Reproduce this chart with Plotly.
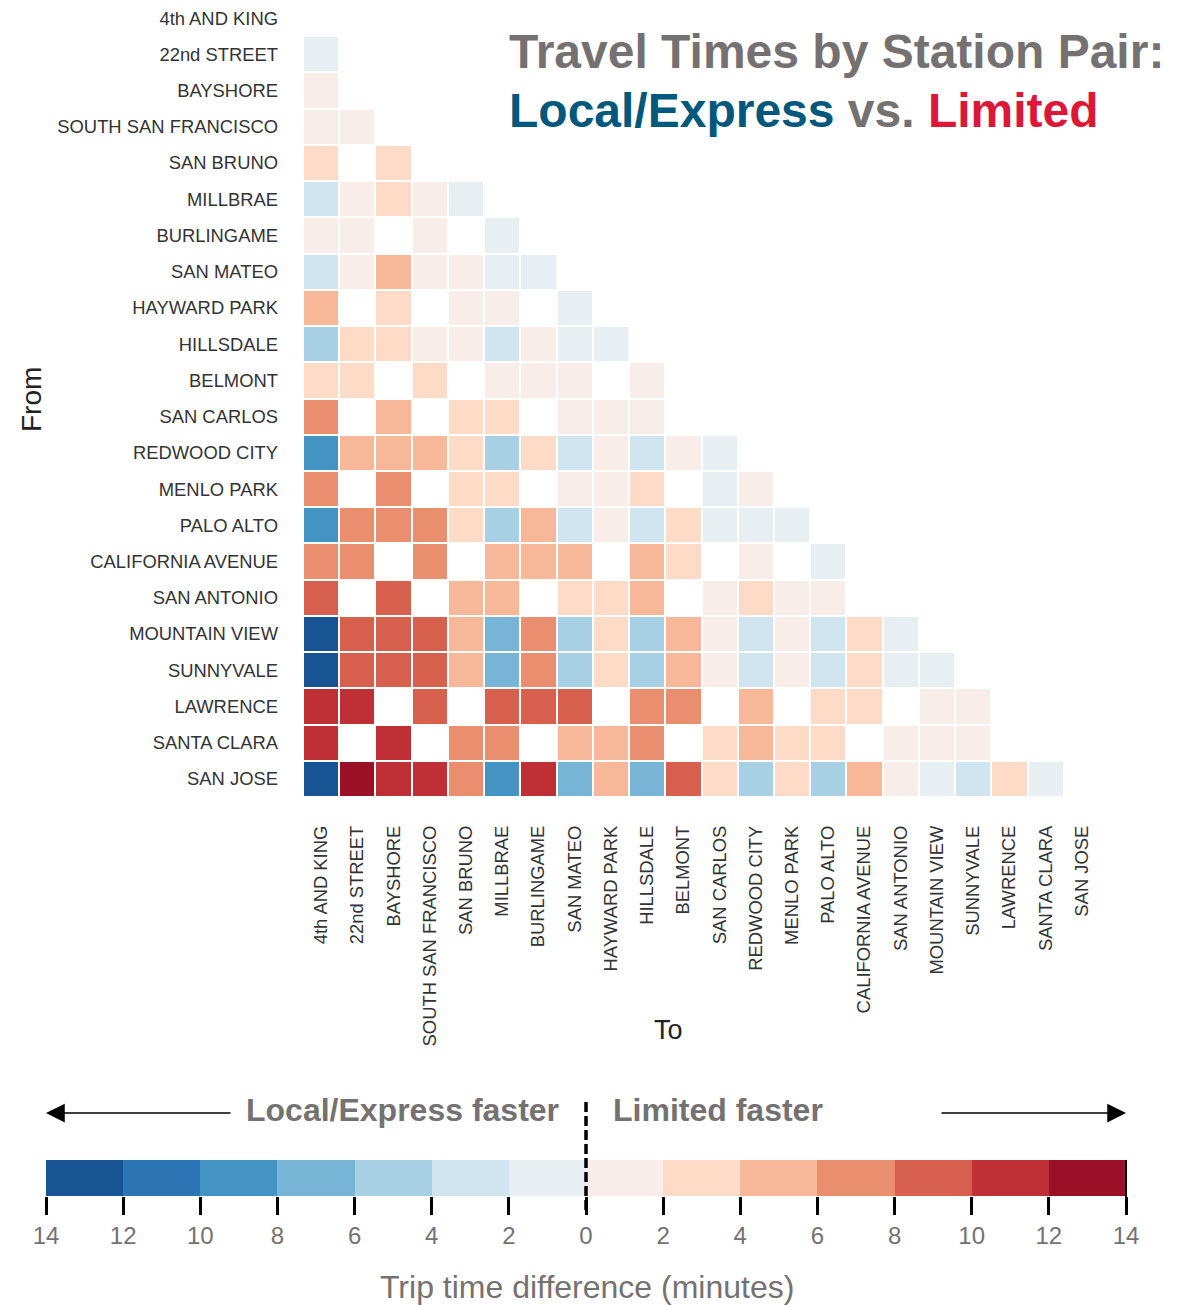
import plotly.graph_objects as go

# Caltrain stations, north to south
stations = [
    "4th AND KING", "22nd STREET", "BAYSHORE", "SOUTH SAN FRANCISCO", "SAN BRUNO",
    "MILLBRAE", "BURLINGAME", "SAN MATEO", "HAYWARD PARK", "HILLSDALE", "BELMONT",
    "SAN CARLOS", "REDWOOD CITY", "MENLO PARK", "PALO ALTO", "CALIFORNIA AVENUE",
    "SAN ANTONIO", "MOUNTAIN VIEW", "SUNNYVALE", "LAWRENCE", "SANTA CLARA", "SAN JOSE",
]

N = None
# Trip time difference in minutes (Local/Express minus Limited), by origin row.
# Negative: Local/Express faster; positive: Limited faster; None: no common service.
diff_rows = [
    [],
    [-1],
    [1],
    [1, 1],
    [3, N, 3],
    [-3, 1, 3, 1, -1],
    [1, 1, N, 1, N, -1],
    [-3, 1, 5, 1, 1, -1, -1],
    [5, N, 3, N, 1, 1, N, -1],
    [-5, 3, 3, 1, 1, -3, 1, -1, -1],
    [3, 3, N, 3, N, 1, 1, 1, N, 1],
    [7, N, 5, N, 3, 3, N, 1, 1, 1, N],
    [-9, 5, 5, 5, 3, -5, 3, -3, 1, -3, 1, -1],
    [7, N, 7, N, 3, 3, N, 1, 1, 3, N, -1, 1],
    [-9, 7, 7, 7, 3, -5, 5, -3, 1, -3, 3, -1, -1, -1],
    [7, 7, N, 7, N, 5, 5, 5, N, 5, 3, N, 1, N, -1],
    [9, N, 9, N, 5, 5, N, 3, 3, 5, N, 1, 3, 1, 1, N],
    [-13, 9, 9, 9, 5, -7, 7, -5, 3, -5, 5, 1, -3, 1, -3, 3, -1],
    [-13, 9, 9, 9, 5, -7, 7, -5, 3, -5, 5, 1, -3, 1, -3, 3, -1, -1],
    [11, 11, N, 9, N, 9, 9, 9, N, 7, 7, N, 5, N, 3, 3, N, 1, 1],
    [11, N, 11, N, 7, 7, N, 5, 5, 7, N, 3, 5, 3, 3, N, 1, 1, 1, N],
    [-13, 13, 11, 11, 7, -9, 11, -7, 5, -7, 9, 3, -5, 3, -5, 5, 1, -1, -3, 3, -1],
]

# Legend bins (2-minute steps) and colours
bin_edges = [-14, -12, -10, -8, -6, -4, -2, 0, 2, 4, 6, 8, 10, 12, 14]
bin_colors = [
    "#185493", "#2c75b4", "#4393c3", "#78b4d5", "#a7d0e4", "#d1e5f0", "#e8eff3",
    "#f8ede8", "#fddbc7", "#f7b799", "#ea8e70", "#d6604d", "#be3036", "#991027",
]
legend_ticks = ["14", "12", "10", "8", "6", "4", "2", "0", "2", "4", "6", "8", "10", "12", "14"]

W, H = 1181, 1305
GRAY = "#767171"
FONT = "Liberation Sans, Arial, sans-serif"


def px(x):
    return x / W


def py(y):
    return 1 - y / H


# Full square matrix, padded with gaps above the diagonal
n = len(stations)
z = [row + [None] * (n - len(row)) for row in diff_rows]

# Stepped colour scale
lo, hi = bin_edges[0], bin_edges[-1]
colorscale = []
for i, c in enumerate(bin_colors):
    a = (bin_edges[i] - lo) / (hi - lo)
    b = (bin_edges[i + 1] - lo) / (hi - lo)
    colorscale.append([a, c])
    colorscale.append([b, c])

fig = go.Figure()

fig.add_trace(go.Heatmap(
    z=z, x=stations, y=stations,
    zmin=lo, zmax=hi, colorscale=colorscale, showscale=False,
    xgap=2, ygap=2, hoverongaps=False,
    xaxis="x", yaxis="y",
))

# Legend strip
centers = [(bin_edges[i] + bin_edges[i + 1]) / 2 for i in range(len(bin_colors))]
fig.add_trace(go.Heatmap(
    z=[centers], x=centers, y=[0],
    zmin=lo, zmax=hi, colorscale=colorscale, showscale=False,
    xaxis="x2", yaxis="y2", hoverinfo="skip",
))

label_font = dict(family=FONT, size=18.4, color="#333333")

fig.update_layout(
    width=W, height=H,
    margin=dict(l=0, r=0, t=0, b=0, autoexpand=False),
    paper_bgcolor="white", plot_bgcolor="white",
    font=dict(family=FONT),
    showlegend=False,
    xaxis=dict(
        domain=[px(303), px(1100)], anchor="y", automargin=False,
        tickangle=-90, tickfont=label_font, ticks="", ticklabelstandoff=24,
        showgrid=False, zeroline=False, showline=False,
    ),
    yaxis=dict(
        domain=[py(797), py(0)], anchor="x", autorange="reversed", automargin=False,
        tickfont=label_font, ticks="", ticklabelstandoff=24,
        showgrid=False, zeroline=False, showline=False,
    ),
    xaxis2=dict(
        domain=[px(46), px(1126)], anchor="y2", range=[lo, hi], automargin=False,
        tickvals=bin_edges, ticktext=legend_ticks,
        ticks="outside", ticklen=18, tickwidth=2.5, tickcolor="black",
        tickfont=dict(family=FONT, size=24, color=GRAY),
        showgrid=False, zeroline=False, showline=False,
    ),
    yaxis2=dict(
        domain=[py(1196), py(1160)], anchor="x2", automargin=False,
        showticklabels=False, ticks="", showgrid=False, zeroline=False,
    ),
)

annotations = [
    dict(text="<b>Travel Times by Station Pair:</b>", x=px(507), y=py(52),
         xanchor="left", yanchor="middle",
         font=dict(family=FONT, size=48, color=GRAY)),
    dict(text="<b><span style='color:#00587c'>Local/Express</span> vs. "
              "<span style='color:#dd1738'>Limited</span></b>",
         x=px(507), y=py(110), xanchor="left", yanchor="middle",
         font=dict(family=FONT, size=48, color=GRAY)),
    dict(text="From", x=px(32), y=py(400), textangle=-90,
         xanchor="center", yanchor="middle",
         font=dict(family=FONT, size=28, color="#222222")),
    dict(text="To", x=px(668), y=py(1030), xanchor="center", yanchor="middle",
         font=dict(family=FONT, size=27, color="#222222")),
    dict(text="<b>Local/Express faster</b>", x=px(402), y=py(1110),
         xanchor="center", yanchor="middle",
         font=dict(family=FONT, size=32, color=GRAY)),
    dict(text="<b>Limited faster</b>", x=px(718), y=py(1110),
         xanchor="center", yanchor="middle",
         font=dict(family=FONT, size=32, color=GRAY)),
    dict(text="Trip time difference (minutes)", x=px(587), y=py(1287),
         xanchor="center", yanchor="middle",
         font=dict(family=FONT, size=32, color=GRAY)),
    # Direction arrows
    dict(text="", x=px(46), y=py(1113), ax=186, ay=0,
         showarrow=True, arrowhead=2, arrowsize=2.5, arrowwidth=1.5,
         arrowcolor="black", standoff=0),
    dict(text="", x=px(1126), y=py(1113), ax=-186, ay=0,
         showarrow=True, arrowhead=2, arrowsize=2.5, arrowwidth=1.5,
         arrowcolor="black", standoff=0),
]
for a in annotations:
    a.setdefault("xref", "paper")
    a.setdefault("yref", "paper")
    a.setdefault("showarrow", False)
fig.update_layout(annotations=annotations)

# Zero divider across the legend
fig.add_shape(type="line", xref="paper", yref="paper",
              x0=px(586), x1=px(586), y0=py(1102), y1=py(1214),
              line=dict(color="black", width=3.5, dash="10px,4px"))
# Right edge line of the legend strip
fig.add_shape(type="line", xref="paper", yref="paper",
              x0=px(1126), x1=px(1126), y0=py(1160), y1=py(1200),
              line=dict(color="black", width=2))

fig.write_html("out.html")
